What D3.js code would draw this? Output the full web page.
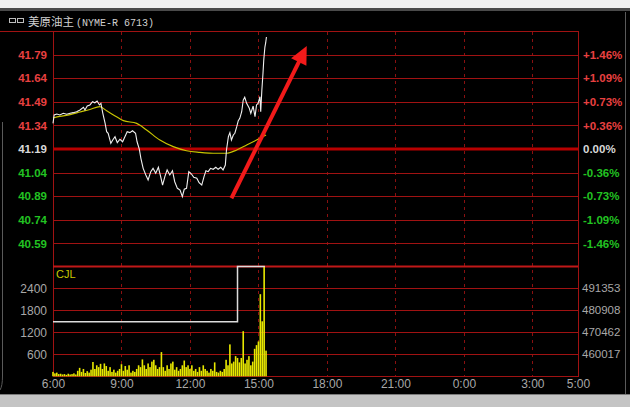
<!DOCTYPE html>
<html><head><meta charset="utf-8">
<script src="https://cdn.jsdelivr.net/npm/d3@7"></script>
<style>
html,body{margin:0;padding:0;background:#000;overflow:hidden;}
svg{display:block;}
</style></head><body>
<svg id="c" width="630" height="407"></svg>
<script>
// ---------- data ----------
const titleName = "美原油主";
const titleCode = "(NYME-R 6713)";
const volLabel = "CJL";
const prevClose = 41.19;
const priceTicks = [41.79, 41.64, 41.49, 41.34, 41.19, 41.04, 40.89, 40.74, 40.59];
const pctLabels = ["+1.46%", "+1.09%", "+0.73%", "+0.36%", "0.00%", "-0.36%", "-0.73%", "-1.09%", "-1.46%"];
const volTicks = [2400, 1800, 1200, 600];
const oiTicks = [491353, 480908, 470462, 460017];
const timeTickMinutes = [0, 180, 360, 540, 720, 900, 1080, 1260, 1380];
const timeTickLabels = ["6:00", "9:00", "12:00", "15:00", "18:00", "21:00", "0:00", "3:00", "5:00"];

// minutes after 6:00
const priceMinutes = [0,3,10,18,27,36,45,53,62,71,80,84,90,97,104,110,116,122,126,131,137,141,145,152,157,163,169,176,183,189,195,202,209,217,221,227,231,237,244,250,257,263,270,277,283,288,294,300,307,314,320,327,334,340,345,351,357,364,370,378,384,391,397,402,408,414,421,428,434,441,447,453,456,461,465,469,474,478,483,487,491,496,500,504,509,516,520,526,531,535,539,544,546,549,552,554,557,559,561];
const prices = [41.353,41.406,41.412,41.406,41.417,41.411,41.417,41.421,41.427,41.438,41.455,41.438,41.463,41.470,41.491,41.484,41.495,41.470,41.480,41.417,41.353,41.300,41.290,41.226,41.247,41.268,41.230,41.252,41.236,41.268,41.300,41.294,41.306,41.290,41.236,41.188,41.131,41.067,41.025,40.993,41.046,41.067,41.036,41.074,41.014,40.961,41.014,41.057,41.025,41.052,40.982,40.940,40.929,40.887,40.934,40.940,41.046,41.031,41.010,41.004,40.976,40.961,41.014,41.052,41.046,41.067,41.061,41.074,41.061,41.074,41.057,41.088,41.184,41.268,41.294,41.247,41.279,41.290,41.332,41.370,41.385,41.427,41.501,41.519,41.480,41.449,41.417,41.463,41.395,41.470,41.480,41.522,41.427,41.565,41.673,41.756,41.838,41.864,41.902];

const avgMinutes = [0,18,45,71,97,123,141,167,185,220,246,281,316,351,386,430,456,483,509,535,560];
const avgPrices = [41.387,41.397,41.409,41.425,41.441,41.459,41.433,41.395,41.370,41.353,41.311,41.247,41.205,41.179,41.169,41.163,41.163,41.184,41.215,41.247,41.279];

// 5-minute volume bars starting 6:00
const volStepMinutes = 5;
const volumes = [120,80,100,60,70,50,60,40,70,50,60,80,50,150,230,120,200,90,140,100,
  180,390,200,300,250,340,200,350,280,150,250,120,180,100,150,200,330,150,280,180,
  300,100,150,120,200,300,250,460,300,200,350,250,400,450,300,200,250,660,250,150,
  300,200,350,400,180,250,150,200,300,430,250,300,200,300,150,200,120,250,150,300,
  200,150,100,200,150,380,120,100,150,120,200,450,300,870,350,400,550,500,380,500,
  1230,350,450,550,300,400,750,850,950,2240,1500,3000,700];

// open interest (step line)
const oiMinutes = [0, 485, 557];
const oiValues = [475500, 501700, 501700];

// annotation arrow (time, price)
const arrowFrom = {m: 469, p: 40.877};
const arrowTo = {m: 667, p: 41.845};

// ---------- drawing ----------
const svg = d3.select("#c");
const W = 630, H = 407;
const L = 53, R = 578;
const gridCol = "#a01212";
const dashCol = "#8a1010";
const red = "#e84040", green = "#22c322", white = "#d8d8d8", gray = "#a8a8a8";

const x = d3.scaleLinear().domain([0, 1380]).range([L, R]);
const yP = d3.scaleLinear().domain([40.44, 41.94]).range([267, 31]);
const yV = d3.scaleLinear().domain([0, 3000]).range([376.3, 266.3]);
const yOI = d3.scaleLinear().domain([460017, 491353]).range([yV(600), yV(2400)]);
const px = v => Math.round(v) + 0.5;

// chrome
svg.append("rect").attr("x",0).attr("y",0).attr("width",W).attr("height",H).attr("fill","#000");
svg.append("rect").attr("x",0).attr("y",0).attr("width",W).attr("height",8).attr("fill","#f0f0f0");
svg.append("rect").attr("x",0).attr("y",8).attr("width",W).attr("height",3).attr("fill","#4a4a4a");
svg.append("rect").attr("x",0).attr("y",395).attr("width",W).attr("height",12).attr("fill","#c4c4c4");
svg.append("rect").attr("x",0).attr("y",394).attr("width",W).attr("height",1).attr("fill","#7a7a7a");
svg.append("path").attr("d","M2.5,122 L2.5,376 Q2.5,386 0,390").attr("fill","none").attr("stroke","#5a5a5a");
svg.append("line").attr("x1",625.5).attr("x2",625.5).attr("y1",12).attr("y2",394).attr("stroke","#5a5a5a");

// title
const tg = svg.append("g");
tg.append("rect").attr("x",9.5).attr("y",18.5).attr("width",6).attr("height",4).attr("fill","none").attr("stroke","#bdbdbd");
tg.append("rect").attr("x",17.5).attr("y",18.5).attr("width",6).attr("height",4).attr("fill","none").attr("stroke","#bdbdbd");
tg.append("text").attr("x",28).attr("y",25.5).attr("fill","#d0d0d0")
  .style("font-family","'Noto Sans CJK SC', sans-serif").style("font-size","11.5px").text(titleName);
tg.append("text").attr("x",76).attr("y",25.5).attr("fill","#d0d0d0")
  .style("font-family","'Liberation Mono', monospace").style("font-size","10px").text(titleCode);

// frame lines
svg.append("line").attr("x1",0).attr("x2",R).attr("y1",31.5).attr("y2",31.5).attr("stroke",gridCol);
svg.append("line").attr("x1",px(L)).attr("x2",px(L)).attr("y1",31).attr("y2",377).attr("stroke",gridCol);
svg.append("line").attr("x1",px(R)).attr("x2",px(R)).attr("y1",31).attr("y2",377).attr("stroke",gridCol);

// vertical dashed time grid
svg.append("g").selectAll("line").data(timeTickMinutes.filter(m => m > 0 && m < 1380)).join("line")
  .attr("x1", d => px(x(d))).attr("x2", d => px(x(d)))
  .attr("y1", 32).attr("y2", 376)
  .attr("stroke", dashCol).attr("stroke-dasharray","3,4");

// price grid
svg.append("g").selectAll("line").data(priceTicks).join("line")
  .attr("x1", L).attr("x2", R)
  .attr("y1", d => d === prevClose ? Math.round(yP(d)) : px(yP(d)))
  .attr("y2", d => d === prevClose ? Math.round(yP(d)) : px(yP(d)))
  .attr("stroke", d => d === prevClose ? "#b80000" : gridCol)
  .attr("stroke-width", d => d === prevClose ? 3 : 1);

// price labels
const labFont = "'Liberation Sans', Arial, sans-serif";
const colorFor = d => d > prevClose + 1e-9 ? red : (d < prevClose - 1e-9 ? green : white);
svg.append("g").selectAll("text").data(priceTicks).join("text")
  .attr("x", 47).attr("y", d => yP(d)).attr("dy","0.36em").attr("text-anchor","end")
  .attr("fill", colorFor).style("font-family",labFont).style("font-size","11.5px").style("font-weight","bold")
  .text(d => d.toFixed(2));
svg.append("g").selectAll("text").data(priceTicks).join("text")
  .attr("x", 583).attr("y", d => yP(d)).attr("dy","0.36em").attr("text-anchor","start")
  .attr("fill", colorFor).style("font-family",labFont).style("font-size","11.5px").style("font-weight","bold")
  .text((d,i) => pctLabels[i]);

// volume pane grid
svg.append("line").attr("x1",L).attr("x2",R).attr("y1",266.5).attr("y2",266.5).attr("stroke","#c01818").attr("stroke-width",2);
svg.append("g").selectAll("line").data(volTicks).join("line")
  .attr("x1", L).attr("x2", R).attr("y1", d => px(yV(d))).attr("y2", d => px(yV(d)))
  .attr("stroke", gridCol);
svg.append("line").attr("x1",L).attr("x2",R).attr("y1",376.5).attr("y2",376.5).attr("stroke",gridCol);

svg.append("g").selectAll("text").data(volTicks).join("text")
  .attr("x", 47).attr("y", d => yV(d)).attr("dy","0.36em").attr("text-anchor","end")
  .attr("fill", gray).style("font-family",labFont).style("font-size","12px")
  .text(d => d);
svg.append("g").selectAll("text").data(oiTicks).join("text")
  .attr("x", 582).attr("y", d => yOI(d)).attr("dy","0.36em").attr("text-anchor","start")
  .attr("fill", gray).style("font-family",labFont).style("font-size","11.5px")
  .text(d => d);

svg.append("text").attr("x",56).attr("y",278).attr("fill","#c8c800")
  .style("font-family",labFont).style("font-size","11px").text(volLabel);

// volume bars
svg.append("g").selectAll("rect").data(volumes).join("rect")
  .attr("x", (d,i) => x(i*volStepMinutes) - 0.8).attr("width", 1.6)
  .attr("y", d => yV(d)).attr("height", d => yV(0) - yV(d))
  .attr("fill", "#e8e800");

// open interest step
const oiData = oiMinutes.map((m,i) => ({m, v: oiValues[i]}));
svg.append("path").datum(oiData)
  .attr("d", d3.line().x(d => x(d.m)).y(d => yOI(d.v)).curve(d3.curveStepAfter))
  .attr("fill","none").attr("stroke","#dcdcdc").attr("stroke-width",1.5);

// avg price line
const avgData = avgMinutes.map((m,i) => ({m, p: avgPrices[i]}));
svg.append("path").datum(avgData)
  .attr("d", d3.line().x(d => x(d.m)).y(d => yP(d.p)).curve(d3.curveMonotoneX))
  .attr("fill","none").attr("stroke","#c8c400").attr("stroke-width",1.2);

// price line
const pData = priceMinutes.map((m,i) => ({m, p: prices[i]}));
svg.append("path").datum(pData)
  .attr("d", d3.line().x(d => x(d.m)).y(d => yP(d.p)))
  .attr("fill","none").attr("stroke","#f0f0f0").attr("stroke-width",1.1);

// time axis
const xAxis = d3.axisBottom(x).tickValues(timeTickMinutes).tickSize(0)
  .tickFormat((d,i) => timeTickLabels[i]);
const ax = svg.append("g").attr("transform","translate(0,378)").call(xAxis);
ax.select(".domain").remove();
ax.selectAll("text").attr("fill", gray).attr("dy","0.6em")
  .style("font-family",labFont).style("font-size","12px");

// arrow annotation
const ax0 = x(arrowFrom.m), ay0 = yP(arrowFrom.p), ax1 = x(arrowTo.m), ay1 = yP(arrowTo.p);
const dx = ax1-ax0, dy = ay1-ay0, len = Math.hypot(dx,dy), ux = dx/len, uy = dy/len;
const headL = 18, headW = 8.5;
const bx = ax1 - ux*headL, by = ay1 - uy*headL;
svg.append("line").attr("x1",ax0).attr("y1",ay0).attr("x2",bx+ux*2).attr("y2",by+uy*2)
  .attr("stroke","#f21a1a").attr("stroke-width",4);
svg.append("path")
  .attr("d", `M${ax1},${ay1} L${bx - uy*headW},${by + ux*headW} L${bx + uy*headW},${by - ux*headW} Z`)
  .attr("fill","#f21a1a");
</script>
</body></html>
